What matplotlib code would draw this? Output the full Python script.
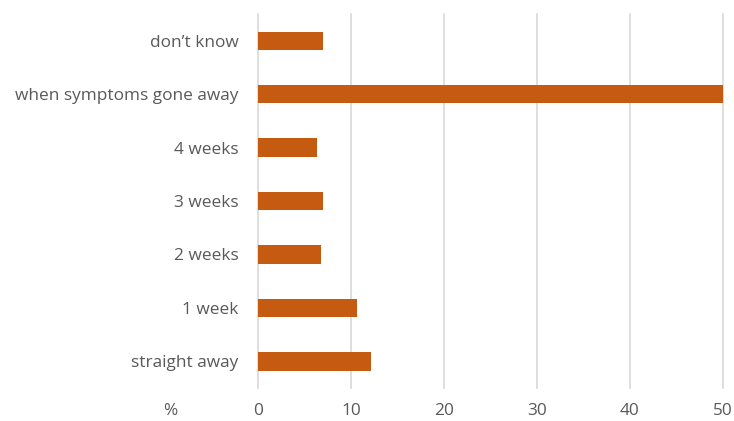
import matplotlib
matplotlib.use('Agg')
from matplotlib import pyplot as plt

# Dados
categorias = ['straight away', '1 week', '2 weeks', '3 weeks', '4 weeks',
              'when symptoms gone away', 'don\u2019t know']
valores = [12.1, 10.6, 6.8, 7.0, 6.3, 50.0, 7.0]
ticks_x = [0, 10, 20, 30, 40, 50]

cor_barra = '#C55A11'
cor_texto = '#595959'
cor_grade = '#D9D9D9'

plt.rcParams['font.family'] = ['Open Sans', 'DejaVu Sans']

fig = plt.figure(figsize=(7.34, 4.21), dpi=100)
ax = fig.add_axes([0.3515, 0.078, 0.6335, 0.889])

pos = range(len(categorias))
ax.barh(pos, valores, height=0.34, color=cor_barra, zorder=3)

ax.set_xlim(0, 50)
ax.set_ylim(-0.5, len(categorias) - 0.5)
ax.set_xticks(ticks_x)
ax.set_yticks(list(pos))
ax.set_yticklabels(categorias)

ax.grid(axis='x', color=cor_grade, linewidth=1.2, zorder=0)
for linha in ax.get_xgridlines():
    linha.set_clip_on(False)
for s in ax.spines.values():
    s.set_visible(False)
ax.tick_params(axis='both', length=0, colors=cor_texto, labelsize=12.4)
ax.tick_params(axis='y', pad=14)
ax.tick_params(axis='x', pad=11)

fig.text(163 / 734, 1 - 411 / 421, '%', color=cor_texto, fontsize=12.4,
         ha='left', va='center')

fig.savefig('out.png', dpi=100)
